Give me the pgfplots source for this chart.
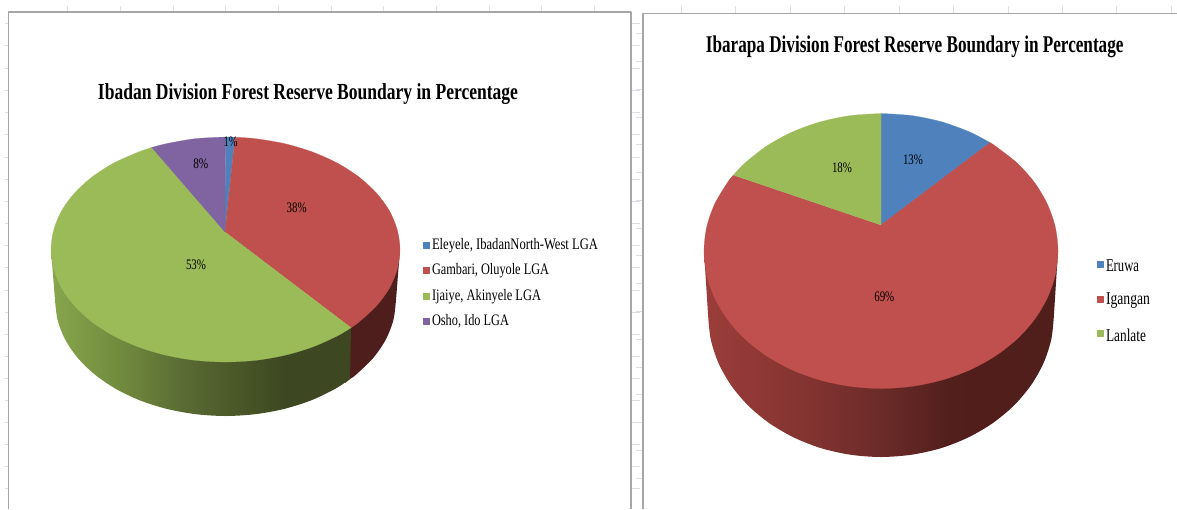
\documentclass[border=0pt]{standalone}
\usepackage{fontspec}
\usepackage{graphicx}
\usepackage{pgfplots}
\pgfplotsset{compat=1.18}
\setmainfont{Liberation Serif}
\definecolor{cblue}{HTML}{4F81BD}
\definecolor{cred}{HTML}{C0504D}
\definecolor{cgreen}{HTML}{9BBB59}
\definecolor{cpurple}{HTML}{8064A2}
\definecolor{cdarkred}{HTML}{4E1E1C}
\definecolor{gridc}{HTML}{DADFEA}
\definecolor{framec}{HTML}{A6A6A6}
\pgfdeclarehorizontalshading{greenside}{100bp}{rgb(0bp)=(.53,.65,.30); rgb(25bp)=(.53,.65,.30); rgb(37bp)=(.44,.54,.24); rgb(47bp)=(.35,.42,.20); rgb(57.5bp)=(.28,.33,.15); rgb(64bp)=(.24,.28,.13); rgb(100bp)=(.24,.28,.13)}
\pgfdeclarehorizontalshading{redside}{100bp}{rgb(0bp)=(.61,.24,.23); rgb(25bp)=(.61,.24,.23); rgb(40bp)=(.51,.20,.19); rgb(50bp)=(.42,.17,.16); rgb(60bp)=(.32,.12,.11); rgb(100bp)=(.30,.11,.10)}
\newcommand{\tx}[3]{\resizebox{#1pt}{\height}{\fontsize{#2}{#2}\selectfont #3}}
\begin{document}
\begin{tikzpicture}
\begin{axis}[
  width=1177pt,height=509pt,scale only axis,
  xmin=0,xmax=1177,ymin=0,ymax=509,y dir=reverse,
  hide axis,clip=true,
  every axis plot/.append style={line join=round}]

% sheet gridline stubs behind the two charts
\pgfplotsinvokeforeach{67,120,173,225,278,331,383,436,489,541,594}{\draw[gridc,line width=.8pt] (axis cs:#1,6) -- (axis cs:#1,11);}
\pgfplotsinvokeforeach{681,735,790,844,899,953,1008,1062,1116,1171}{\draw[gridc,line width=.8pt] (axis cs:#1,6) -- (axis cs:#1,13);}
\pgfplotsinvokeforeach{23,45,68,90,112,134,157,179,201,223,245,267,290,312,334,356,378,400,422,444,466,488}{
  \draw[gridc,line width=.8pt] (axis cs:5,#1) -- (axis cs:8,#1);
  \draw[gridc,line width=.8pt] (axis cs:632,#1) -- (axis cs:640,#1);}
\pgfplotsinvokeforeach{33,61,89,117,144,172,200,228,255,283,311,339,367,394,422,450,478}{\draw[gridc,line width=.8pt] (axis cs:636,#1) -- (axis cs:642.5,#1);}

% chart frames
\addplot[framec,line width=1.2pt] coordinates {(8.5,509) (8.5,12) (631,12) (631,509)};
\addplot[framec,line width=1.2pt] coordinates {(643,509) (643,13.5) (1177,13.5)};

% ---- Ibadan pie: side walls
\addplot[draw=none,fill=cdarkred,smooth] coordinates {(396,300)(393.4,320.1)(385.7,339.7)(373.2,358)(356.1,374.6)(350,379)} -- (axis cs:345,383) -- (axis cs:345,331) -- (axis cs:351,327.7) -- (axis cs:400,249.5) -- cycle;
\addplot[draw=none,shade,shading=greenside,smooth] coordinates {(55,300)(57.6,320.1)(65.3,339.7)(77.8,358)(94.9,374.6)(115.9,388.9)(140.25,400.5)(167.2,409)(195.9,414.2)(225.5,416)(255.1,414.2)(283.8,409)(310.75,400.5)(335.1,388.9)(350,379)} -- (axis cs:351,327.7) -- (axis cs:51,249.5) -- cycle;
% ---- Ibadan pie: top slices
\addplot[cblue,fill=cblue,line width=.2pt] coordinates {(225.5,137)(235,137.2)} -- (axis cs:225,232) -- cycle;
\addplot[cred,fill=cred,line width=.2pt,smooth] coordinates {(235,137.2)(255.8,138.7)(285.2,143.8)(312.75,152.1)(337.7,163.3)(359.2,177.2)(376.6,193.25)(389.5,211)(397.3,230)(400,249.5)(397.3,269)(389.5,288)(376.6,305.75)(359.2,321.8)(351,327.7)} -- (axis cs:225,232) -- cycle;
\addplot[cgreen,fill=cgreen,line width=.2pt,smooth] coordinates {(351,327.7)(337.7,335.7)(312.75,346.9)(285.2,355.2)(255.8,360.3)(225.5,362)(195.2,360.3)(165.8,355.2)(138.25,346.9)(113.3,335.7)(91.8,321.8)(74.4,305.75)(61.5,288)(53.7,269)(51,249.5)(53.7,230)(61.5,211)(74.4,193.25)(91.8,177.2)(113.3,163.3)(138.25,152.1)(151.8,147.5)} -- (axis cs:225,232) -- cycle;
\addplot[cpurple,fill=cpurple,line width=.2pt,smooth] coordinates {(151.8,147.5)(165.8,143.8)(195.2,138.7)(225.5,137)} -- (axis cs:225,232) -- cycle;

% ---- Ibarapa pie: side wall
\addplot[draw=none,shade,shading=redside,smooth] coordinates {(708,314)(710.6,338.8)(718.4,362.9)(731.2,385.5)(748.5,405.9)(769.8,423.5)(794.5,437.8)(821.8,448.4)(851,454.8)(881,457)(911,454.8)(940.2,448.4)(967.5,437.8)(992.2,423.5)(1013.5,405.9)(1030.8,385.5)(1043.6,362.9)(1051.4,338.8)(1054,314)} -- (axis cs:1058,251) -- (axis cs:704,251) -- cycle;
% ---- Ibarapa pie: top slices
\addplot[cblue,fill=cblue,line width=.2pt,smooth] coordinates {(881,113.5)(911.7,115.6)(941.5,121.8)(969.5,131.9)(990,142.6)} -- (axis cs:881,225) -- cycle;
\addplot[cred,fill=cred,line width=.2pt,smooth] coordinates {(990,142.6)(994.8,145.7)(1016.6,162.6)(1034.3,182.25)(1047.3,204)(1055.3,227.1)(1058,251)(1055.3,274.9)(1047.3,298)(1034.3,319.75)(1016.6,339.4)(994.8,356.3)(969.5,370.1)(941.5,380.2)(911.7,386.4)(881,388.5)(850.3,386.4)(820.5,380.2)(792.5,370.1)(767.2,356.3)(745.4,339.4)(727.7,319.75)(714.7,298)(706.7,274.9)(704,251)(706.7,227.1)(714.7,204)(727.7,182.25)(733.4,175.1)} -- (axis cs:881,225) -- cycle;
\addplot[cgreen,fill=cgreen,line width=.2pt,smooth] coordinates {(733.4,175.1)(745.4,162.6)(767.2,145.7)(792.5,131.9)(820.5,121.8)(850.3,115.6)(881,113.5)} -- (axis cs:881,225) -- cycle;

% legend keys
\addplot[only marks,mark=square*,mark size=3.1pt,cblue,mark options={draw=none,fill=cblue}] coordinates {(426.5,245)(1100.2,264)};
\addplot[only marks,mark=square*,mark size=3.1pt,cred,mark options={draw=none,fill=cred}] coordinates {(426.5,270)(1100.2,299)};
\addplot[only marks,mark=square*,mark size=3.1pt,cgreen,mark options={draw=none,fill=cgreen}] coordinates {(426.5,296)(1100.2,333)};
\addplot[only marks,mark=square*,mark size=3.1pt,cpurple,mark options={draw=none,fill=cpurple}] coordinates {(426.5,321)};

\tikzset{lab/.style={inner sep=0pt,outer sep=0pt,text=black}}
% titles
\node[lab] at (axis cs:308,94) {\tx{420}{23}{\bfseries Ibadan Division Forest Reserve Boundary in Percentage}};
\node[lab] at (axis cs:914.7,47) {\tx{417.5}{24}{\bfseries Ibarapa Division Forest Reserve Boundary in Percentage}};
% data labels
\node[lab] at (axis cs:230.6,141.7) {\tx{14}{14.5}{1\%}};
\node[lab] at (axis cs:296.7,207.3) {\tx{20}{14.5}{38\%}};
\node[lab] at (axis cs:200.8,163.3) {\tx{15}{14.5}{8\%}};
\node[lab] at (axis cs:196,265) {\tx{20}{14.5}{53\%}};
\node[lab] at (axis cs:913,159.3) {\tx{20}{14.5}{13\%}};
\node[lab] at (axis cs:842,167.3) {\tx{20}{14.5}{18\%}};
\node[lab] at (axis cs:884.3,296.7) {\tx{20}{14.5}{69\%}};
% legend text
\node[lab,anchor=west] at (axis cs:432,246) {\tx{166}{16}{Eleyele, IbadanNorth-West LGA}};
\node[lab,anchor=west] at (axis cs:432,271) {\tx{117}{16}{Gambari, Oluyole LGA}};
\node[lab,anchor=west] at (axis cs:432,297) {\tx{109}{16}{Ijaiye, Akinyele LGA}};
\node[lab,anchor=west] at (axis cs:432,321) {\tx{77}{16}{Osho, Ido LGA}};
\node[lab,anchor=west] at (axis cs:1106,266) {\tx{33}{18}{Eruwa}};
\node[lab,anchor=west] at (axis cs:1106,301) {\tx{44}{18}{Igangan}};
\node[lab,anchor=west] at (axis cs:1106,335) {\tx{40}{18}{Lanlate}};
\end{axis}
\pgfresetboundingbox
\path[use as bounding box] (0,0) rectangle (1177pt,509pt);
\end{tikzpicture}
\end{document}
